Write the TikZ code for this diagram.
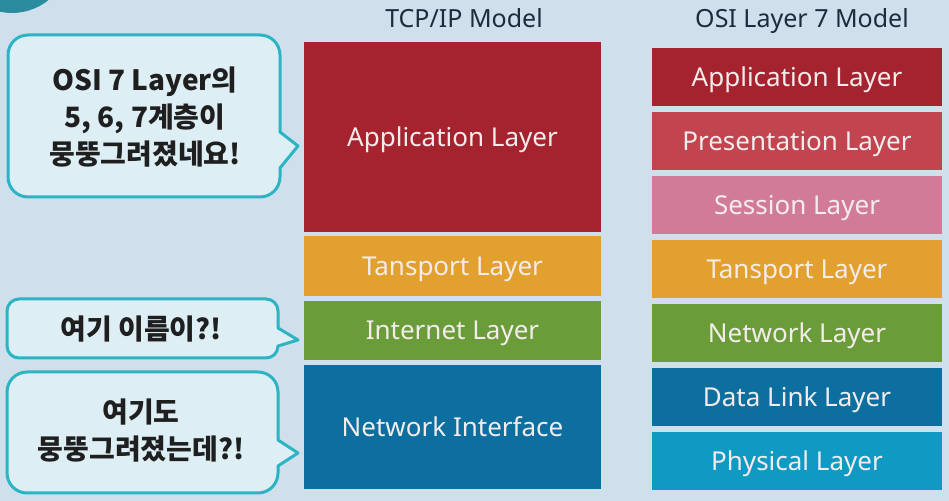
\documentclass[tikz,border=0pt]{standalone}
\usepackage{fontspec}
\setmainfont{Noto Sans}
\newfontfamily\krfont{Noto Sans CJK KR}
\usetikzlibrary{arrows.meta}
\definecolor{bgcol}{HTML}{CFE0EC}
\definecolor{decocol}{HTML}{2A8C9E}
\definecolor{bubbleline}{HTML}{2DB4C4}
\definecolor{bubblefill}{HTML}{DDEEF5}
\definecolor{titleblue}{HTML}{1E2B3C}
\definecolor{layertext}{HTML}{F4ECEC}
\definecolor{appred}{HTML}{A5232F}
\definecolor{presred}{HTML}{C1444F}
\definecolor{sesspink}{HTML}{D27B98}
\definecolor{transorange}{HTML}{E2A12F}
\definecolor{netgreen}{HTML}{6B9C3A}
\definecolor{linkblue}{HTML}{0C6F9F}
\definecolor{physblue}{HTML}{0F9AC3}
\tikzset{
  layer/.style={rectangle, draw=none, text=layertext, inner sep=0pt, text depth=0pt, font=\fontsize{13}{15}\selectfont},
  tcp/.style={layer, minimum width=148.5pt},
  osi/.style={layer, minimum width=145pt, minimum height=29pt},
  modeltitle/.style={text=titleblue, inner sep=0pt, font=\fontsize{12.5}{15}\selectfont},
  bubble/.style={draw=bubbleline, line width=1.5pt, fill=bubblefill, line join=round},
  bubbletext/.style={align=center, text=black!88, inner sep=0pt, font=\krfont\bfseries\fontsize{14}{18.5}\selectfont}
}
\begin{document}
\begin{tikzpicture}[x=0.5pt, y=-0.5pt]
  \fill[bgcol, use as bounding box] (0,0) rectangle (949,501);
  \begin{scope}
    \clip (0,0) rectangle (949,501);
    \fill[decocol] (12,-45) circle[radius=58];
  \end{scope}

  % speech bubbles
  \draw[bubble] (280,168) -- (298,146) -- (280,132) -- (280,55)
    arc[start angle=0, end angle=90, radius=10pt] -- (28,35)
    arc[start angle=90, end angle=180, radius=10pt] -- (8,177)
    arc[start angle=180, end angle=270, radius=10pt] -- (260,197)
    arc[start angle=270, end angle=360, radius=10pt] -- cycle;
  \draw[bubble] (278,346) -- (298,340) -- (278,328) -- (278,311)
    arc[start angle=0, end angle=90, radius=6pt] -- (19,299)
    arc[start angle=90, end angle=180, radius=6pt] -- (7,346)
    arc[start angle=180, end angle=270, radius=6pt] -- (266,358)
    arc[start angle=270, end angle=360, radius=6pt] -- cycle;
  \draw[bubble] (278,466) -- (298,453) -- (278,440) -- (278,392)
    arc[start angle=0, end angle=90, radius=10pt] -- (27,372)
    arc[start angle=90, end angle=180, radius=10pt] -- (7,473)
    arc[start angle=180, end angle=270, radius=10pt] -- (258,493)
    arc[start angle=270, end angle=360, radius=10pt] -- cycle;
  \node[bubbletext] (note1) at (145,117) {OSI 7 Layer의\\5, 6, 7계층이\\뭉뚱그려졌네요!};
  \node[bubbletext] (note2) at (141,329) {여기 이름이?!};
  \node[bubbletext] (note3) at (141,431) {여기도\\뭉뚱그려졌는데?!};

  % TCP/IP
  \node[modeltitle] (tcptitle) at (464,18) {TCP/IP Model};
  \node[tcp, fill=appred, minimum height=95pt] (tapp) at (452.5,137) {Application Layer};
  \node[tcp, fill=transorange, minimum height=30pt] (ttrans) at (452.5,266) {Tansport Layer};
  \node[tcp, fill=netgreen, minimum height=29.5pt] (tinet) at (452.5,330.5) {Internet Layer};
  \node[tcp, fill=linkblue, minimum height=62pt] (tnetif) at (452.5,427) {Network Interface};

  % OSI 7
  \node[modeltitle] (osititle) at (802,21) {OSI Layer 7 Model};
  \node[osi, fill=appred] (oapp) at (797,77) {Application Layer};
  \node[osi, fill=presred] (opres) at (797,141) {Presentation Layer};
  \node[osi, fill=sesspink] (osess) at (797,205) {Session Layer};
  \node[osi, fill=transorange] (otrans) at (797,269) {Tansport Layer};
  \node[osi, fill=netgreen] (onet) at (797,333) {Network Layer};
  \node[osi, fill=linkblue] (olink) at (797,397) {Data Link Layer};
  \node[osi, fill=physblue] (ophys) at (797,461) {Physical Layer};
\end{tikzpicture}
\end{document}
